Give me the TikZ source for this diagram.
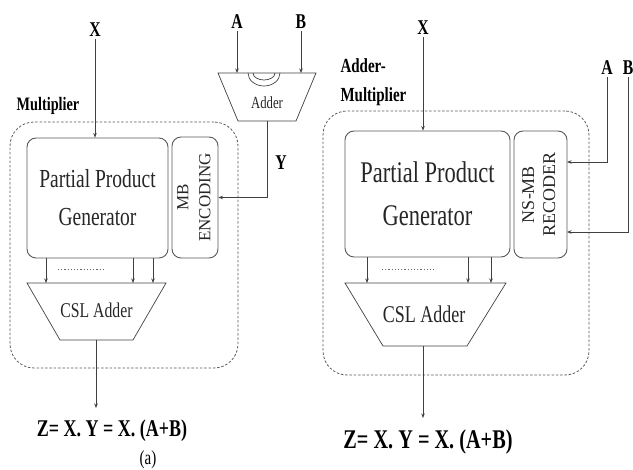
\documentclass[tikz,border=0pt]{standalone}
\usepackage{fontspec}
\usepackage{graphicx}
\setmainfont{Liberation Serif}[FakeStretch = 0.75]
\newfontfamily\sidefont{Liberation Serif}
\usetikzlibrary{arrows.meta}

\tikzset{
  block/.style = {draw = black!65, line width = 0.9pt, rounded corners = 9pt, inner sep = 0pt, align = center, text = black!85},
  frame/.style = {draw = black!65, line width = 0.8pt, dash pattern = on 2.5pt off 1.8pt, rounded corners = 24pt},
  wire/.style = {draw = black!75, line width = 0.7pt},
  arrow/.style = {wire, -{Stealth[length = 4.5pt, width = 3.5pt]}},
  dots/.style = {draw = black!60, line width = 1pt, dash pattern = on 1.2pt off 2pt},
  signal/.style = {font = \fontsize{21}{21}\selectfont\bfseries, inner sep = 2pt}
}

\begin{document}
\begin{tikzpicture}[x = 1pt, y = -1pt]

  \useasboundingbox (0, 0) rectangle (633, 470);

  % Left: multiplier fed by a separate adder
  \node[frame, minimum width = 228pt, minimum height = 246pt] (frameL) at (124, 245) {};
  \node[font = \fontsize{19}{19}\selectfont\bfseries] (nameL) at (48, 106) {Multiplier};

  \node[block, minimum width = 141pt, minimum height = 120pt, font = \fontsize{26}{38}\selectfont] (ppgL) at (97.5, 198) {Partial Product\\Generator};
  \node[block, minimum width = 46pt, minimum height = 121pt, font = \sidefont\fontsize{17}{22}\selectfont] (mbL) at (195, 197.5)
    {\rotatebox{90}{\begin{tabular}{@{}c@{}}MB\\ENCODING\end{tabular}}};

  % Adder block
  \draw[wire] (218, 73) -- (316, 73) -- (296, 121) -- (238, 121) -- cycle;
  \draw[wire] (248, 73) arc[start angle = 180, end angle = 0, x radius = 16, y radius = 13];
  \draw[wire] (253, 73) arc[start angle = 180, end angle = 0, x radius = 11, y radius = 7];
  \node[font = \fontsize{17}{17}\selectfont, text = black!85] (adder) at (267, 103) {Adder};
  \coordinate (addInA) at (237, 73);
  \coordinate (addInB) at (301, 73);
  \coordinate (addOut) at (267, 121);

  % CSL adder
  \draw[wire] (27, 283) -- (166, 283) -- (133, 340) -- (60, 340) -- cycle;
  \node[font = \fontsize{21}{21}\selectfont, text = black!85] (cslL) at (96.5, 310) {CSL Adder};
  \coordinate (cslLa) at (46, 283);
  \coordinate (cslLb) at (133, 283);
  \coordinate (cslLc) at (153, 283);
  \coordinate (cslLout) at (96, 340);
  \coordinate (endL) at (96, 408);

  % Signals
  \node[signal] (xL) at (95, 30) {X};
  \node[signal] (aL) at (237, 22) {A};
  \node[signal] (bL) at (301, 22) {B};
  \node[signal] (yL) at (281, 163) {Y};

  \draw[arrow] (xL.south) -- (ppgL.north -| xL);
  \draw[arrow] (aL.south) -- (addInA);
  \draw[arrow] (bL.south) -- (addInB);
  \draw[arrow] (addOut) |- (mbL.east);
  \draw[arrow] (ppgL.south -| cslLa) -- (cslLa);
  \draw[arrow] (ppgL.south -| cslLb) -- (cslLb);
  \draw[arrow] (ppgL.south -| cslLc) -- (cslLc);
  \draw[dots] (58, 270) -- (103, 270);
  \draw[arrow] (cslLout) -- (endL);

  \node[font = \fontsize{24}{24}\selectfont\bfseries] (zL) at (112, 431) {Z= X. Y = X. (A+B)};
  \node[font = \fontsize{20}{20}\selectfont] (capA) at (148, 460) {(a)};

  % Right: merged adder-multiplier
  \node[frame, minimum width = 266pt, minimum height = 264pt] (frameR) at (456, 243) {};
  \node[font = \fontsize{20}{29}\selectfont\bfseries, align = left, anchor = west] (nameR) at (337, 82) {Adder-\\Multiplier};

  \node[block, minimum width = 165pt, minimum height = 126pt, font = \fontsize{30}{43}\selectfont] (ppgR) at (427.5, 194) {Partial Product\\Generator};
  \node[block, minimum width = 53pt, minimum height = 127pt, font = \sidefont\fontsize{18}{21}\selectfont] (recR) at (540.5, 194.5)
    {\rotatebox{90}{\begin{tabular}{@{}c@{}}NS-MB\\RECODER\end{tabular}}};
  \coordinate (recA) at (567, 162);
  \coordinate (recB) at (567, 232);

  % CSL adder
  \draw[wire] (345, 283) -- (506, 283) -- (467, 346) -- (383, 346) -- cycle;
  \node[font = \fontsize{24}{24}\selectfont, text = black!85] (cslR) at (424, 314) {CSL Adder};
  \coordinate (cslRa) at (367, 283);
  \coordinate (cslRb) at (468, 283);
  \coordinate (cslRc) at (491, 283);
  \coordinate (cslRout) at (423, 346);
  \coordinate (endR) at (423, 418);

  % Signals
  \node[signal] (xR) at (423, 28) {X};
  \node[signal] (aR) at (607, 68) {A};
  \node[signal] (bR) at (628, 68) {B};

  \draw[arrow] (xR.south) -- (ppgR.north -| xR);
  \draw[arrow] (aR.south) |- (recA);
  \draw[arrow] (bR.south) |- (recB);
  \draw[arrow] (ppgR.south -| cslRa) -- (cslRa);
  \draw[arrow] (ppgR.south -| cslRb) -- (cslRb);
  \draw[arrow] (ppgR.south -| cslRc) -- (cslRc);
  \draw[dots] (382, 270) -- (435, 270);
  \draw[arrow] (cslRout) -- (endR);

  \node[font = \fontsize{27}{27}\selectfont\bfseries] (zR) at (428, 442) {Z= X. Y = X. (A+B)};

\end{tikzpicture}
\end{document}
